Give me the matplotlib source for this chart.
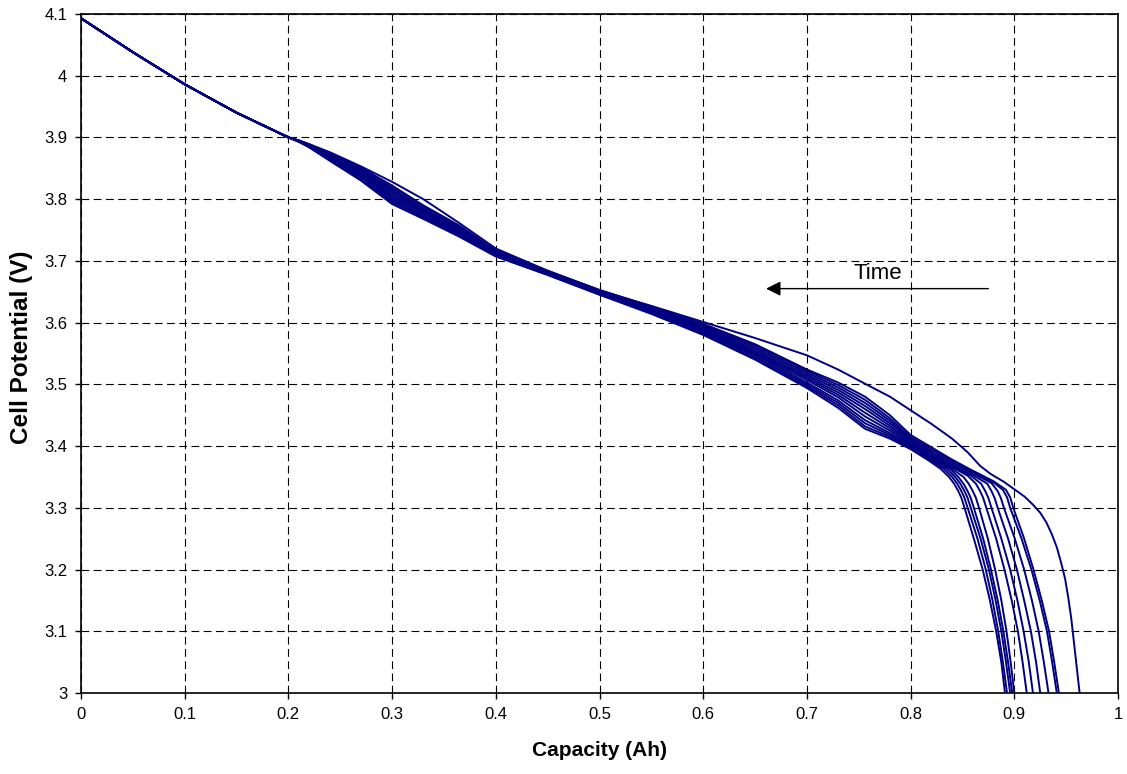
import matplotlib as mpl
mpl.use('Agg')
import matplotlib.pyplot as plt

plt.rcParams['font.family'] = ['Liberation Sans', 'DejaVu Sans']

# shared capacity grid (Ah) for the main body of every discharge curve
cap_grid = [0.0, 0.05, 0.1, 0.15, 0.2, 0.21, 0.22, 0.24, 0.27, 0.3, 0.33, 0.365,
            0.4, 0.45, 0.5, 0.55, 0.6, 0.65, 0.7, 0.73, 0.756, 0.78]
trunk = [4.093, 4.038, 3.986, 3.940, 3.900]

# body voltages from 0.21 Ah to 0.78 Ah, one row per curve (first row = newest cell)
body = [
    [3.895, 3.889, 3.876, 3.853, 3.828, 3.800, 3.761, 3.720, 3.684, 3.652, 3.627, 3.601, 3.575, 3.547, 3.524, 3.501, 3.480],
    [3.895, 3.889, 3.874, 3.851, 3.822, 3.790, 3.757, 3.717, 3.684, 3.653, 3.626, 3.598, 3.565, 3.524, 3.503, 3.480, 3.450],
    [3.895, 3.888, 3.873, 3.849, 3.819, 3.788, 3.755, 3.716, 3.683, 3.652, 3.625, 3.596, 3.563, 3.522, 3.499, 3.475, 3.445],
    [3.895, 3.888, 3.872, 3.847, 3.816, 3.785, 3.753, 3.715, 3.682, 3.651, 3.624, 3.594, 3.560, 3.519, 3.495, 3.470, 3.441],
    [3.894, 3.887, 3.871, 3.845, 3.813, 3.783, 3.751, 3.714, 3.681, 3.650, 3.622, 3.592, 3.557, 3.516, 3.491, 3.465, 3.437],
    [3.894, 3.887, 3.869, 3.843, 3.810, 3.781, 3.749, 3.713, 3.681, 3.649, 3.621, 3.590, 3.554, 3.513, 3.487, 3.460, 3.433],
    [3.894, 3.886, 3.868, 3.841, 3.807, 3.779, 3.747, 3.712, 3.680, 3.649, 3.620, 3.588, 3.552, 3.510, 3.483, 3.454, 3.429],
    [3.894, 3.886, 3.867, 3.839, 3.804, 3.777, 3.745, 3.711, 3.680, 3.648, 3.619, 3.587, 3.550, 3.507, 3.479, 3.448, 3.425],
    [3.894, 3.885, 3.866, 3.837, 3.801, 3.774, 3.743, 3.710, 3.679, 3.647, 3.618, 3.585, 3.548, 3.503, 3.474, 3.442, 3.421],
    [3.893, 3.885, 3.865, 3.835, 3.798, 3.772, 3.742, 3.709, 3.678, 3.646, 3.617, 3.584, 3.545, 3.500, 3.470, 3.437, 3.418],
    [3.893, 3.884, 3.863, 3.832, 3.795, 3.770, 3.740, 3.708, 3.678, 3.646, 3.616, 3.582, 3.542, 3.497, 3.466, 3.432, 3.415],
    [3.893, 3.884, 3.862, 3.830, 3.792, 3.768, 3.739, 3.707, 3.677, 3.645, 3.614, 3.580, 3.540, 3.494, 3.462, 3.428, 3.412],
]

# knee and end of discharge, (capacity, voltage) for each curve
tail_cap = [
    [0.8, 0.82, 0.84, 0.855, 0.867, 0.877, 0.89, 0.9, 0.91, 0.918, 0.925, 0.931, 0.936, 0.941, 0.945, 0.949, 0.952, 0.955, 0.958, 0.961, 0.963],
    [0.8, 0.82, 0.84, 0.86, 0.88, 0.892, 0.896, 0.899, 0.9095, 0.9185, 0.9265, 0.9335, 0.9385, 0.943],
    [0.8, 0.82, 0.84, 0.86, 0.88, 0.889, 0.893, 0.896, 0.907, 0.9165, 0.9245, 0.9315, 0.9365, 0.941],
    [0.8, 0.82, 0.84, 0.86, 0.878, 0.884, 0.887, 0.89, 0.9005, 0.9095, 0.917, 0.9235, 0.9285, 0.933],
    [0.8, 0.82, 0.84, 0.86, 0.874, 0.878, 0.881, 0.884, 0.894, 0.9025, 0.9095, 0.916, 0.921, 0.925],
    [0.8, 0.82, 0.84, 0.858, 0.868, 0.872, 0.875, 0.878, 0.8875, 0.896, 0.903, 0.909, 0.914, 0.918],
    [0.8, 0.82, 0.84, 0.855, 0.863, 0.867, 0.87, 0.873, 0.8825, 0.8905, 0.8975, 0.9035, 0.908, 0.912],
    [0.8, 0.82, 0.84, 0.851, 0.856, 0.86, 0.863, 0.866, 0.8745, 0.8815, 0.8875, 0.8925, 0.8965, 0.9],
    [0.8, 0.82, 0.838, 0.846, 0.851, 0.855, 0.858, 0.861, 0.87, 0.8775, 0.884, 0.8895, 0.894, 0.898],
    [0.8, 0.82, 0.835, 0.843, 0.848, 0.852, 0.855, 0.858, 0.8675, 0.8755, 0.882, 0.8875, 0.892, 0.896],
    [0.8, 0.82, 0.832, 0.84, 0.845, 0.849, 0.852, 0.855, 0.8645, 0.8725, 0.879, 0.8845, 0.889, 0.893],
    [0.8, 0.818, 0.829, 0.837, 0.842, 0.846, 0.849, 0.852, 0.861, 0.8695, 0.8765, 0.8825, 0.8875, 0.891],
]
tail_volt = [
    [3.458, 3.436, 3.412, 3.390, 3.368, 3.355, 3.342, 3.330, 3.318, 3.305, 3.292, 3.276, 3.258, 3.236, 3.212, 3.185, 3.155, 3.120, 3.075, 3.030, 3.000],
    [3.418, 3.398, 3.378, 3.360, 3.343, 3.329, 3.317, 3.300, 3.250, 3.200, 3.150, 3.100, 3.050, 3.000],
    [3.415, 3.395, 3.376, 3.358, 3.341, 3.329, 3.317, 3.300, 3.250, 3.200, 3.150, 3.100, 3.050, 3.000],
    [3.412, 3.392, 3.373, 3.356, 3.340, 3.327, 3.316, 3.300, 3.250, 3.200, 3.150, 3.100, 3.050, 3.000],
    [3.410, 3.389, 3.370, 3.353, 3.339, 3.327, 3.316, 3.300, 3.250, 3.200, 3.150, 3.100, 3.050, 3.000],
    [3.407, 3.386, 3.368, 3.352, 3.339, 3.327, 3.316, 3.300, 3.250, 3.200, 3.150, 3.100, 3.050, 3.000],
    [3.405, 3.384, 3.366, 3.352, 3.339, 3.327, 3.316, 3.300, 3.250, 3.200, 3.150, 3.100, 3.050, 3.000],
    [3.403, 3.382, 3.363, 3.350, 3.339, 3.327, 3.316, 3.300, 3.250, 3.200, 3.150, 3.100, 3.050, 3.000],
    [3.401, 3.380, 3.363, 3.350, 3.339, 3.327, 3.316, 3.300, 3.250, 3.200, 3.150, 3.100, 3.050, 3.000],
    [3.399, 3.378, 3.363, 3.350, 3.339, 3.327, 3.316, 3.300, 3.250, 3.200, 3.150, 3.100, 3.050, 3.000],
    [3.397, 3.376, 3.363, 3.350, 3.339, 3.327, 3.316, 3.300, 3.250, 3.200, 3.150, 3.100, 3.050, 3.000],
    [3.395, 3.376, 3.363, 3.350, 3.339, 3.327, 3.316, 3.300, 3.250, 3.200, 3.150, 3.100, 3.050, 3.000],
]

x_ticks = [0, 0.1, 0.2, 0.3, 0.4, 0.5, 0.6, 0.7, 0.8, 0.9, 1]
x_labels = ['0', '0.1', '0.2', '0.3', '0.4', '0.5', '0.6', '0.7', '0.8', '0.9', '1']
y_ticks = [3, 3.1, 3.2, 3.3, 3.4, 3.5, 3.6, 3.7, 3.8, 3.9, 4, 4.1]
y_labels = ['3', '3.1', '3.2', '3.3', '3.4', '3.5', '3.6', '3.7', '3.8', '3.9', '4', '4.1']

fig = plt.figure(figsize=(11.27, 7.74), dpi=100)
ax = fig.add_axes([0.0719, 0.1047, 0.9201, 0.8773])

for i in range(len(body)):
    xs = cap_grid + tail_cap[i]
    ys = trunk + body[i] + tail_volt[i]
    ax.plot(xs, ys, color='#000080', lw=1.4, solid_joinstyle='round')

ax.set_xlim(0, 1)
ax.set_ylim(3, 4.1)
ax.set_xticks(x_ticks)
ax.set_xticklabels(x_labels)
ax.set_yticks(y_ticks)
ax.set_yticklabels(y_labels)
ax.grid(True, color='black', lw=0.8, linestyle=(0, (7, 4)))
ax.set_axisbelow(True)
ax.tick_params(direction='out', length=4, width=1, labelsize=12, pad=6, colors='black')
for s in ax.spines.values():
    s.set_linewidth(1.2)

ax.set_xlabel('Capacity (Ah)', fontsize=15, fontweight='bold', labelpad=14)
ax.set_ylabel('Cell Potential (V)', fontsize=17.5, fontweight='bold')
ax.yaxis.set_label_coords(-0.046, 0.509)

ax.annotate('', xy=(0.6606, 3.655), xytext=(0.875, 3.655),
            arrowprops=dict(arrowstyle='-|>', color='black', lw=1,
                            mutation_scale=22, shrinkA=0, shrinkB=0))
ax.text(0.768, 3.679, 'Time', fontsize=16, ha='center', va='center')

fig.savefig('out.png')
